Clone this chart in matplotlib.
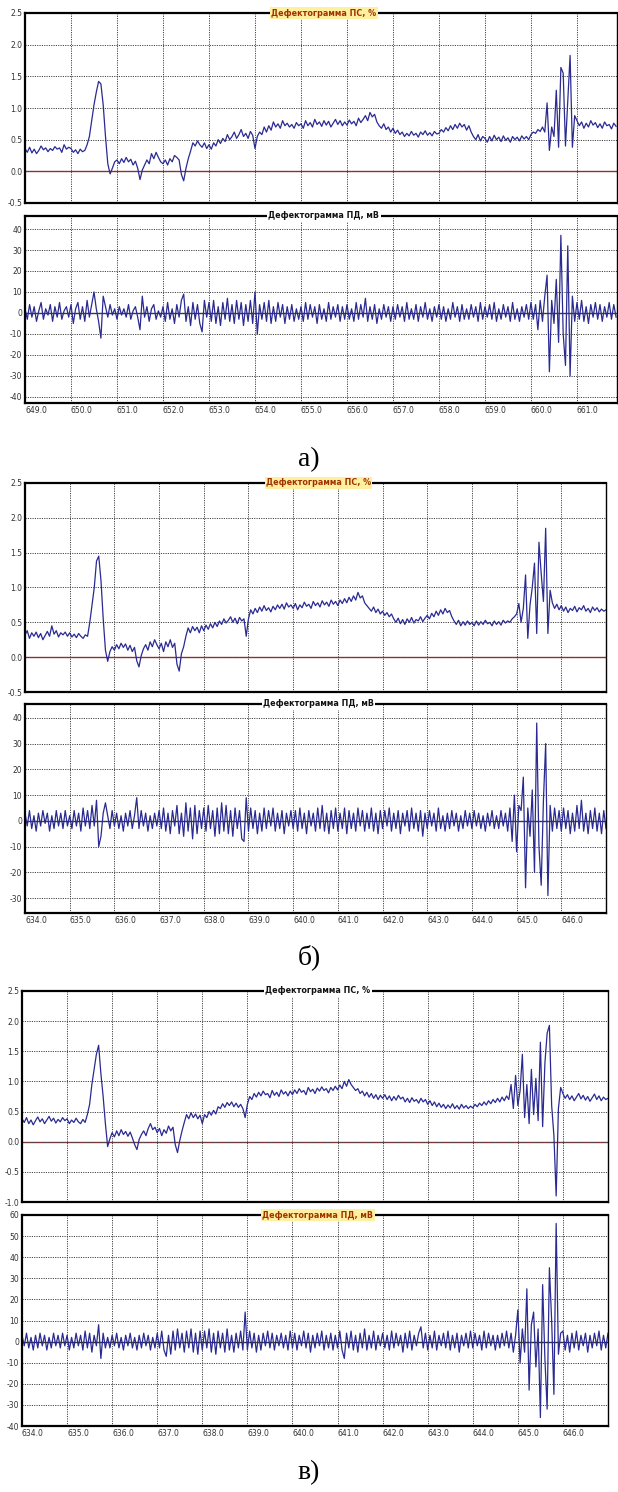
import numpy as np
import matplotlib
matplotlib.use("Agg")
import matplotlib.pyplot as plt

# --- data: readings every 0.05 of distance ---
STEP = 0.05

a_x0 = 649.0
a_ps = [
    0.36, 0.30, 0.38, 0.29, 0.35, 0.28, 0.33, 0.40, 0.34, 0.37, 0.31, 0.36, 0.33, 0.39, 0.35, 0.37, 0.30, 0.42, 0.35, 0.38,
    0.36, 0.30, 0.34, 0.28, 0.35, 0.31, 0.33, 0.42, 0.55, 0.80, 1.05, 1.25, 1.42, 1.38, 1.05, 0.55, 0.12, -0.04, 0.05, 0.15,
    0.18, 0.12, 0.20, 0.14, 0.22, 0.15, 0.19, 0.10, 0.16, 0.05, -0.13, 0.02, 0.10, 0.18, 0.12, 0.28, 0.20, 0.30, 0.22, 0.15,
    0.12, 0.18, 0.10, 0.20, 0.15, 0.25, 0.22, 0.18, -0.05, -0.15, 0.05, 0.20, 0.32, 0.45, 0.40, 0.48, 0.42, 0.38, 0.45, 0.36,
    0.42, 0.35, 0.45, 0.40, 0.50, 0.44, 0.52, 0.47, 0.58, 0.50, 0.55, 0.62, 0.52, 0.58, 0.66, 0.55, 0.60, 0.52, 0.63, 0.57,
    0.36, 0.55, 0.62, 0.58, 0.70, 0.62, 0.72, 0.65, 0.78, 0.70, 0.75, 0.68, 0.80, 0.72, 0.76, 0.70, 0.74, 0.68, 0.77, 0.72,
    0.75, 0.68, 0.80, 0.72, 0.77, 0.70, 0.82, 0.74, 0.78, 0.71, 0.80, 0.73, 0.79, 0.70, 0.76, 0.82, 0.74, 0.80, 0.72, 0.78,
    0.73, 0.81, 0.75, 0.79, 0.72, 0.84, 0.77, 0.82, 0.88, 0.80, 0.93, 0.86, 0.90, 0.78, 0.72, 0.68, 0.75, 0.66, 0.70, 0.62,
    0.68, 0.60, 0.65, 0.58, 0.62, 0.55, 0.60, 0.56, 0.63, 0.57, 0.60, 0.54, 0.62, 0.58, 0.64, 0.57, 0.61, 0.56, 0.63, 0.59,
    0.60, 0.66, 0.62, 0.69, 0.64, 0.72, 0.66, 0.74, 0.68, 0.76, 0.70, 0.74, 0.65, 0.72, 0.62, 0.55, 0.50, 0.58, 0.48, 0.55,
    0.52, 0.46, 0.55, 0.48, 0.57, 0.50, 0.54, 0.47, 0.56, 0.49, 0.53, 0.46, 0.55, 0.50, 0.54, 0.48, 0.56, 0.51, 0.55, 0.50,
    0.58, 0.62, 0.60, 0.66, 0.63, 0.70, 0.62, 1.08, 0.33, 0.70, 0.55, 1.28, 0.38, 1.64, 1.55, 0.40, 1.12, 1.83, 0.38, 0.88,
    0.80, 0.72, 0.78, 0.68, 0.76, 0.70, 0.80, 0.73, 0.77, 0.69, 0.75, 0.68, 0.78, 0.72, 0.74, 0.67, 0.76, 0.71,
]
a_pd = [
    2, -3, 4, -2, 3, -4, 1, 5, -3, 2, -1, 4, -4, 3, -2, 5, -3, 1, 3, -2,
    4, -5, 2, 5, -3, 3, -4, 6, -2, 4, 10, 2, -4, -12, 8, 3, -2, 4, -1, 2,
    -3, 3, -1, 2, -2, 4, -3, 1, 3, -2, -8, 8, -2, 3, -4, 2, 4, -3, 1, -2,
    3, -4, 5, -3, 2, -5, 4, -2, 6, 9, -4, 3, -6, 5, -3, 4, -5, -9, 6, -2,
    5, -4, 6, -5, 3, -6, 5, -3, 7, -4, 4, -5, 6, -3, 5, -6, 4, -4, 6, -5,
    10, -10, 4, -3, 5, -4, 6, -5, 3, -4, 5, -2, 4, -5, 3, -3, 4, -4, 2, -3,
    3, -4, 5, -3, 4, -2, 3, -5, 4, -3, 2, -4, 5, -3, 3, -2, 4, -4, 3, -3,
    4, -3, 2, -4, 5, -3, 4, -2, 7, -4, 3, -3, 4, -5, 2, -3, 4, -2, 3, -4,
    3, -3, 4, -2, 3, -4, 5, -3, 2, -3, 4, -4, 3, -2, 5, -3, 2, -4, 3, -2,
    4, -3, 3, -4, 2, -3, 5, -2, 3, -4, 4, -3, 2, -3, 4, -2, 3, -4, 5, -3,
    3, -2, 4, -3, 5, -4, 2, -3, 4, -2, 3, -4, 5, -3, 2, -4, 3, -2, 4, -3,
    5, -3, 4, -8, 6, -4, 8, 18, -28, 6, -5, 16, -14, 37, -10, -25, 32, -30, 8, -4,
    5, -3, 6, -4, 3, -5, 4, -2, 5, -3, 4, -4, 3, -2, 5, -3, 4, -2,
]

b_x0 = 634.0
b_ps = [
    0.32, 0.38, 0.27, 0.35, 0.30, 0.36, 0.28, 0.34, 0.25, 0.31, 0.37, 0.30, 0.45, 0.33, 0.38, 0.29, 0.35, 0.32, 0.36, 0.30,
    0.35, 0.29, 0.33, 0.28, 0.34, 0.30, 0.27, 0.32, 0.30, 0.50, 0.75, 1.00, 1.38, 1.45, 1.10, 0.55, 0.10, -0.06, 0.08, 0.15,
    0.10, 0.18, 0.12, 0.20, 0.14, 0.19, 0.10, 0.17, 0.08, 0.14, -0.05, -0.14, 0.02, 0.12, 0.18, 0.10, 0.22, 0.15, 0.25, 0.18,
    0.12, 0.20, 0.08, 0.22, 0.15, 0.25, 0.14, 0.20, -0.10, -0.20, 0.05, 0.15, 0.30, 0.42, 0.35, 0.44, 0.38, 0.43, 0.35, 0.45,
    0.38, 0.46, 0.40, 0.48, 0.42, 0.50, 0.44, 0.52, 0.47, 0.55, 0.49, 0.53, 0.58, 0.50, 0.56, 0.48, 0.57, 0.52, 0.55, 0.30,
    0.55, 0.68, 0.62, 0.70, 0.64, 0.72, 0.66, 0.74, 0.67, 0.71, 0.65, 0.73, 0.68, 0.75, 0.70, 0.76, 0.69, 0.78, 0.72, 0.75,
    0.70, 0.77, 0.68, 0.75, 0.71, 0.79, 0.73, 0.76, 0.70, 0.80, 0.74, 0.78, 0.72, 0.81, 0.75, 0.79, 0.73, 0.82, 0.76, 0.80,
    0.74, 0.82, 0.77, 0.84, 0.78, 0.86, 0.80, 0.88, 0.82, 0.93, 0.85, 0.88, 0.78, 0.74, 0.70, 0.66, 0.72, 0.64, 0.69, 0.62,
    0.66, 0.60, 0.64, 0.58, 0.62, 0.55, 0.50, 0.56, 0.48, 0.54, 0.47, 0.55, 0.50, 0.57, 0.49, 0.54, 0.52, 0.58, 0.51, 0.56,
    0.60, 0.55, 0.63, 0.58, 0.66, 0.60, 0.68, 0.62, 0.70, 0.64, 0.67, 0.58, 0.52, 0.47, 0.53, 0.45, 0.51, 0.46, 0.52, 0.47,
    0.50, 0.45, 0.52, 0.46, 0.51, 0.47, 0.53, 0.48, 0.50, 0.45, 0.52, 0.47, 0.51, 0.46, 0.53, 0.49, 0.52, 0.50, 0.55, 0.58,
    0.62, 0.77, 0.50, 0.70, 1.18, 0.27, 0.75, 1.00, 1.35, 0.34, 1.65, 1.20, 0.80, 1.85, 0.34, 0.96, 0.78, 0.70, 0.76, 0.68,
    0.74, 0.66, 0.72, 0.64, 0.70, 0.67, 0.73, 0.65, 0.71, 0.68, 0.74, 0.66, 0.70, 0.64, 0.72, 0.67, 0.71, 0.65, 0.69, 0.66,
    0.68,
]
b_pd = [
    3, -2, 4, -3, 2, -4, 3, -2, 4, -1, 3, -4, 2, -3, 4, -2, 3, -3, 4, -2,
    2, -3, 4, -2, 3, -4, 5, -2, 4, -3, 6, -2, 8, -10, -6, 3, 7, 2, -3, 4,
    -2, 3, -3, 2, -4, 3, -2, 4, -3, 2, 9, -3, 4, -2, 3, -4, 2, -3, 3, -2,
    4, -3, 5, -4, 3, -5, 4, -2, 6, -5, 3, -6, 7, -4, 5, -7, 6, -5, 4, -3,
    5, -4, 6, -3, 4, -6, 5, -5, 7, -4, 6, -5, 4, -6, 5, -3, 4, -7, -8, 9,
    -4, 5, -3, 4, -5, 3, -4, 5, -3, 4, -2, 5, -4, 3, -3, 4, -5, 3, -2, 4,
    -3, 4, -4, 5, -3, 3, -5, 4, -2, 3, -4, 5, -3, 6, -4, 3, -5, 4, -3, 5,
    -4, 3, -3, 5, -5, 4, -3, 3, -4, 5, -2, 4, -4, 3, -3, 5, -4, 3, -5, 4,
    -3, 4, -2, 5, -4, 3, -3, 4, -5, 3, -2, 4, -4, 5, -3, 3, -4, 4, -6, 3,
    -3, 4, -2, 3, -4, 5, -3, 2, -4, 3, -3, 4, -2, 3, -4, 2, -3, 4, -2, 3,
    -3, 4, -2, 3, -3, 2, -4, 3, -2, 4, -3, 2, -3, 4, -2, 3, -4, 5, -8, 10,
    -12, 6, 4, 17, -26, 5, -6, 12, -20, 38, -10, -25, 8, 30, -29, 6, -4, 5, -3, 4,
    -4, 5, -3, 4, -5, 3, -4, 6, -3, 8, -4, 3, -5, 4, -3, 5, -4, 3, -5, 4,
    -3,
]

c_x0 = 634.0
c_ps = [
    0.38, 0.32, 0.40, 0.30, 0.36, 0.28, 0.35, 0.41, 0.33, 0.38, 0.30, 0.36, 0.42, 0.34, 0.39, 0.31, 0.37, 0.33, 0.40, 0.35,
    0.38, 0.30, 0.36, 0.32, 0.39, 0.33, 0.30, 0.37, 0.32, 0.45, 0.62, 0.95, 1.20, 1.45, 1.60, 1.13, 0.75, 0.30, -0.08, 0.05,
    0.15, 0.08, 0.18, 0.10, 0.20, 0.12, 0.17, 0.09, 0.16, 0.06, -0.05, -0.13, 0.04, 0.12, 0.18, 0.10, 0.22, 0.30, 0.20, 0.24,
    0.15, 0.22, 0.10, 0.20, 0.14, 0.26, 0.18, 0.24, -0.05, -0.18, 0.02, 0.18, 0.32, 0.45, 0.38, 0.48, 0.40, 0.46, 0.38, 0.44,
    0.30, 0.45, 0.40, 0.50, 0.44, 0.52, 0.46, 0.58, 0.55, 0.63, 0.57, 0.65, 0.60, 0.66, 0.58, 0.64, 0.57, 0.62, 0.55, 0.40,
    0.62, 0.75, 0.70, 0.80, 0.74, 0.82, 0.76, 0.84, 0.78, 0.80, 0.73, 0.85, 0.77, 0.82, 0.75, 0.86, 0.79, 0.83, 0.76, 0.84,
    0.78, 0.86, 0.80, 0.88, 0.82, 0.85, 0.78, 0.90, 0.83, 0.87, 0.80, 0.89, 0.84, 0.91, 0.85, 0.88, 0.81, 0.90, 0.85, 0.92,
    0.86, 0.94, 0.88, 1.00, 0.92, 1.03, 0.95, 0.90, 0.85, 0.88, 0.80, 0.84, 0.76, 0.82, 0.74, 0.80, 0.72, 0.78, 0.70, 0.77,
    0.72, 0.78, 0.70, 0.76, 0.68, 0.75, 0.69, 0.77, 0.71, 0.74, 0.66, 0.72, 0.65, 0.73, 0.67, 0.70, 0.64, 0.72, 0.66, 0.70,
    0.62, 0.68, 0.60, 0.66, 0.58, 0.64, 0.57, 0.62, 0.55, 0.61, 0.56, 0.63, 0.55, 0.60, 0.54, 0.62, 0.56, 0.60, 0.55, 0.59,
    0.56, 0.62, 0.58, 0.64, 0.60, 0.66, 0.61, 0.68, 0.63, 0.70, 0.65, 0.72, 0.66, 0.74, 0.68, 0.76, 0.70, 0.95, 0.55, 1.10,
    0.60, 0.85, 1.45, 0.40, 0.95, 0.30, 1.20, 0.45, 1.05, 0.35, 1.65, 0.25, 1.30, 1.80, 1.93, 0.60, 0.10, -0.90, 0.55, 0.90,
    0.80, 0.72, 0.78, 0.70, 0.76, 0.68, 0.74, 0.80, 0.71, 0.77, 0.69, 0.75, 0.67, 0.73, 0.79, 0.70, 0.76, 0.68, 0.74, 0.70,
    0.72,
]
c_pd = [
    3, -2, 4, -3, 2, -4, 3, -3, 4, -2, 3, -4, 2, -3, 4, -2, 3, -3, 4, -2,
    3, -4, 2, -3, 4, -2, 3, -4, 5, -3, 4, -5, 3, -2, 8, -8, 4, -3, 2, -3,
    3, -2, 4, -3, 2, -4, 3, -2, 4, -3, 2, -4, 3, -3, 4, -2, 3, -4, 2, -3,
    4, -3, 5, -4, -7, 3, -6, 5, -4, 6, -3, 4, -5, 5, -3, 6, -5, 4, -6, 5,
    -4, 5, -3, 6, -5, 4, -6, 5, -3, 4, -5, 6, -4, 3, -5, 4, -3, 5, -4, 14,
    -4, 5, -3, 4, -5, 3, -4, 4, -2, 5, -3, 4, -4, 3, -2, 4, -3, 3, -4, 5,
    -3, 4, -4, 3, -2, 5, -3, 4, -5, 3, -3, 4, -2, 5, -4, 3, -3, 4, -4, 3,
    -3, 5, -4, -8, 4, -3, 5, -4, 3, -5, 4, -3, 6, -4, 3, -3, 5, -4, 3, -2,
    4, -3, 3, -4, 5, -3, 4, -2, 3, -5, 4, -3, 5, -4, 3, -2, 4, 7, -3, 4,
    -4, 3, -3, 5, -4, 3, -2, 4, -3, 5, -4, 3, -3, 4, -5, 3, -2, 4, -3, 5,
    -3, 4, -2, 3, -4, 5, -3, 4, -2, 3, -4, 3, -3, 4, -2, 5, -3, 4, -5, 3,
    15, -10, 6, -5, 25, -23, 8, 14, -12, 6, -36, 27, -8, -32, 35, 10, -25, 56, -6, 4,
    5, -4, 3, -5, 4, -3, 5, -4, 3, -2, 4, -5, 3, -3, 4, -2, 5, -4, 3, -3,
    4,
]

title_ps = "Дефектограмма ПС, %"
title_pd = "Дефектограмма ПД, мВ"
panel_labels = ["а)", "б)", "в)"]

W, H = 618, 1492
fig = plt.figure(figsize=(W / 100, H / 100), dpi=100)
fig.patch.set_facecolor("white")


def rect(l, t, r, b):
    return [l / W, 1 - b / H, (r - l) / W, (b - t) / H]


def panel(box, x0, vals, xlim, ylim, yticks, title, yellow, decimals, xlabels, zero_col):
    ax = fig.add_axes(rect(*box))
    x = x0 + np.arange(len(vals)) * STEP
    ax.axhline(0, color=zero_col, lw=1.0, zorder=1)
    ax.plot(x, vals, color="#2a2a92", lw=0.9, zorder=2)
    ax.set_xlim(*xlim)
    ax.set_ylim(*ylim)
    # gridlines at whole metres, but no label at the very right edge
    ax.set_xticks(np.arange(int(xlim[0]), int(np.ceil(xlim[1])) + 1))
    ax.set_xlim(*xlim)
    ax.set_yticks(yticks)
    ax.grid(True, color="#444444", ls=(0, (1.2, 1.2)), lw=0.7)
    ax.tick_params(length=0, labelsize=5.5, labelcolor="#333333", pad=2)
    if decimals:
        ax.set_yticklabels([f"{v:.1f}" for v in yticks])
    else:
        ax.set_yticklabels([f"{v:g}" for v in yticks])
    if xlabels:
        labels = [f"{v:.1f}" if v < xlim[1] - 0.5 else "" for v in ax.get_xticks()]
        ax.set_xticklabels(labels)
        for lab in ax.get_xticklabels():
            lab.set_ha("left")
    else:
        ax.set_xticklabels([])
    for side in ["left", "top", "bottom"]:
        ax.spines[side].set_linewidth(1.6)
    ax.spines["right"].set_linewidth(1.0)
    if yellow:
        ax.text(0.505, 1.0, title, transform=ax.transAxes, ha="center", va="center",
                fontsize=5.8, fontweight="bold", color="#a03000",
                bbox=dict(boxstyle="square,pad=0.15", fc="#fff0a0", ec="none"), zorder=5)
    else:
        ax.text(0.505, 1.0, title, transform=ax.transAxes, ha="center", va="center",
                fontsize=5.8, fontweight="bold", color="#111111",
                bbox=dict(boxstyle="square,pad=0.15", fc="white", ec="none"), zorder=5)
    return ax


ps_ticks = [-0.5, 0.0, 0.5, 1.0, 1.5, 2.0, 2.5]

# а)
panel((25, 13, 617, 203), a_x0, a_ps, (649.0, 661.87), (-0.5, 2.5), ps_ticks,
      title_ps, True, True, False, "#8b3c3c")
panel((25, 216, 617, 403), a_x0, a_pd, (649.0, 661.87), (-42.9, 46.2), list(range(-40, 41, 10)),
      title_pd, False, False, True, "#333333")

# б)
panel((25, 483, 606, 692), b_x0, b_ps, (634.0, 647.0), (-0.5, 2.5), ps_ticks,
      title_ps, True, True, False, "#8b3c3c")
panel((25, 704, 606, 913), b_x0, b_pd, (634.0, 647.0), (-35.8, 45.4), list(range(-30, 41, 10)),
      title_pd, False, False, True, "#333333")

# в)
panel((22, 991, 608, 1202), c_x0, c_ps, (634.0, 647.0), (-1.0, 2.5), [-1.0] + ps_ticks,
      title_ps, False, True, False, "#8b3c3c")
panel((22, 1215, 608, 1426), c_x0, c_pd, (634.0, 647.0), (-40, 60), list(range(-40, 61, 10)),
      title_pd, True, False, True, "#222222")

for lab, yc in zip(panel_labels, [460, 957, 1473]):
    fig.text(0.5, 1 - yc / H, lab, ha="center", va="center", fontsize=20,
             family="Liberation Serif")

fig.savefig("out.png", dpi=100, facecolor="white")
